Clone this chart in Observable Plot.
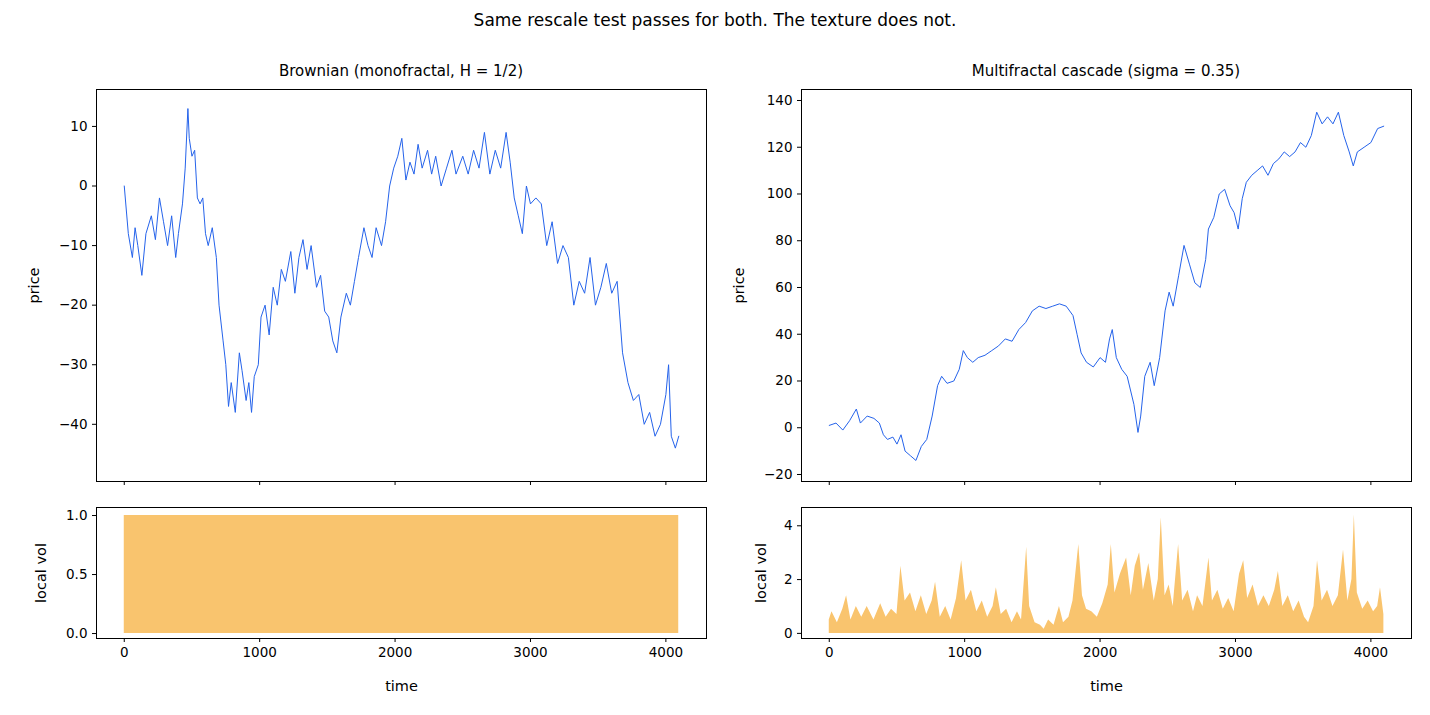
<!DOCTYPE html>
<html><head><meta charset="utf-8">
<script src="https://cdn.jsdelivr.net/npm/d3@7"></script>
<script src="https://cdn.jsdelivr.net/npm/@observablehq/plot@0.6"></script>
<style>
body{margin:0;background:#fff;font-family:"DejaVu Sans",sans-serif;}
#wrap{position:relative;width:1430px;height:715px;}
.t{position:absolute;width:100%;text-align:center;color:#000;}
.p{position:absolute;}
</style></head><body>
<div id="wrap">
<div class="t" style="top:10px;font-size:17px;">Same rescale test passes for both. The texture does not.</div>
<div class="t" style="top:62px;left:96px;width:610px;font-size:15px;">Brownian (monofractal, H = 1/2)</div>
<div class="t" style="top:62px;left:801px;width:610px;font-size:15px;">Multifractal cascade (sigma = 0.35)</div>
<div class="p" id="a" style="left:0;top:80px"></div>
<div class="p" id="b" style="left:705px;top:80px"></div>
<div class="p" id="c" style="left:0;top:500px"></div>
<div class="p" id="d" style="left:705px;top:500px"></div>
</div>
<script>
const brownT = [0,30,60,80,100,130,160,200,230,260,290,320,350,380,400,430,450,470,480,500,520,540,560,580,600,620,650,680,700,730,750,770,790,820,850,870,900,920,940,960,990,1010,1040,1070,1100,1130,1160,1190,1230,1260,1290,1320,1350,1380,1420,1450,1480,1510,1540,1570,1600,1640,1670,1700,1730,1770,1800,1830,1860,1900,1930,1960,1990,2020,2050,2080,2110,2140,2170,2200,2240,2270,2300,2340,2380,2420,2450,2500,2540,2580,2620,2660,2700,2740,2780,2820,2850,2880,2910,2940,2970,3000,3040,3080,3120,3160,3200,3240,3280,3320,3360,3400,3440,3480,3520,3560,3600,3640,3680,3720,3760,3800,3840,3880,3920,3960,4000,4020,4040,4070,4095];
const brownP = [0,-8,-12,-7,-10,-15,-8,-5,-9,-2,-6,-10,-5,-12,-8,-3,3,13,8,5,6,-2,-3,-2,-8,-10,-7,-12,-20,-26,-30,-37,-33,-38,-28,-31,-36,-33,-38,-32,-30,-22,-20,-25,-17,-20,-14,-16,-11,-18,-12,-9,-14,-10,-17,-15,-21,-22,-26,-28,-22,-18,-20,-16,-12,-7,-10,-12,-7,-10,-6,0,3,5,8,1,4,2,7,3,6,2,5,0,3,6,2,5,2,6,3,9,2,6,3,9,4,-2,-5,-8,0,-3,-2,-3,-10,-6,-13,-10,-12,-20,-16,-18,-12,-20,-17,-13,-18,-16,-28,-33,-36,-35,-40,-38,-42,-40,-35,-30,-42,-44,-42];
const multiT = [0,50,100,150,200,230,280,330,370,400,430,470,500,530,560,600,640,680,720,760,800,830,870,920,960,990,1020,1060,1100,1150,1200,1250,1300,1350,1400,1450,1500,1550,1600,1650,1700,1750,1800,1830,1860,1900,1950,2000,2040,2070,2090,2120,2160,2200,2250,2280,2300,2330,2370,2400,2440,2480,2510,2540,2580,2620,2660,2700,2740,2780,2800,2840,2880,2920,2960,2990,3020,3050,3080,3120,3160,3200,3240,3280,3320,3360,3400,3440,3480,3520,3560,3600,3640,3680,3720,3760,3800,3840,3870,3900,3950,4000,4050,4095];
const multiP = [1,2,-1,3,8,2,5,4,2,-3,-5,-4,-7,-3,-10,-12,-14,-8,-5,5,18,22,19,20,25,33,30,28,30,31,33,35,38,37,42,45,50,52,51,52,53,52,48,40,32,28,26,30,28,38,42,30,25,22,10,-2,5,22,28,18,30,50,58,52,65,78,70,62,60,72,85,90,100,102,95,92,85,98,105,108,110,112,108,113,115,118,116,118,122,120,125,135,130,133,130,135,125,118,112,118,120,122,128,129];
const brownVolT = [0,4095];
const brownVol = [1,1];
const multiVolT = [0,20,60,100,128,160,200,240,280,330,380,420,460,500,529,560,600,640,680,720,760,785,820,860,900,940,978,1010,1050,1090,1130,1170,1210,1234,1270,1310,1350,1390,1420,1458,1480,1520,1560,1587,1620,1660,1700,1730,1770,1800,1843,1870,1900,1939,1980,2020,2060,2083,2110,2150,2196,2230,2260,2292,2320,2360,2400,2430,2452,2480,2510,2540,2580,2610,2650,2690,2720,2760,2804,2830,2870,2910,2950,2990,3030,3061,3090,3130,3170,3210,3250,3290,3317,3350,3390,3430,3470,3510,3540,3580,3606,3640,3680,3720,3760,3798,3830,3860,3878,3900,3940,3980,4020,4050,4071,4096];
const multiVol = [0.5,0.8,0.4,0.9,1.4,0.5,1.0,0.6,1.0,0.5,1.1,0.6,0.9,0.7,2.5,1.2,1.5,0.8,1.4,0.7,1.2,1.9,0.6,1.0,0.5,1.3,2.7,1.2,1.6,0.8,1.2,0.6,1.0,1.7,0.7,0.9,0.4,0.8,0.5,3.2,1.0,0.4,0.3,0.15,0.5,0.3,1.0,0.4,0.6,1.2,3.3,1.4,0.9,0.8,0.6,1.1,1.8,3.3,1.5,2.2,2.8,1.4,2.5,3.0,1.6,2.6,1.2,2.0,4.3,1.4,1.8,1.0,3.3,1.2,1.6,0.8,1.4,1.0,2.8,1.2,1.6,0.9,1.3,0.8,2.2,2.7,1.3,1.8,1.0,1.4,1.0,1.6,2.3,1.0,1.4,0.8,1.2,0.6,0.4,1.0,2.7,1.2,1.6,1.0,1.4,3.1,1.2,2.0,4.4,1.5,0.9,1.2,0.8,1.0,1.7,0.7];

const zip = (T, V) => T.map((t, i) => ({t, v: V[i]}));
const BLUE = "#2563eb", ORANGE = "#f9c46e";
const XD = [-205, 4300];
const style = {fontFamily: "DejaVu Sans, sans-serif", fontSize: "13.5px", color: "#000", background: "transparent", overflow: "visible"};

function pricePlot(data, yd, ticks) {
  return Plot.plot({
    width: 720, height: 420, marginLeft: 96, marginRight: 14, marginTop: 9, marginBottom: 19,
    style,
    x: {domain: XD}, y: {domain: yd},
    marks: [
      Plot.frame({stroke: "#000"}),
      Plot.axisX({ticks: [0,1000,2000,3000,4000], tickSize: 4, tickFormat: () => "", label: null}),
      Plot.axisY({ticks, tickSize: 4, label: "price", labelAnchor: "center", labelArrow: "none", labelOffset: 68, tickFormat: d => d < 0 ? "\u2212" + Math.abs(d) : String(d)}),
      Plot.line(data, {x: "t", y: "v", stroke: BLUE, strokeWidth: 1})
    ]
  });
}
function volPlot(data, yd, ticks, fmt, off) {
  return Plot.plot({
    width: 720, height: 215, marginLeft: 96, marginRight: 14, marginTop: 7, marginBottom: 77,
    style,
    x: {domain: XD}, y: {domain: yd},
    marks: [
      Plot.areaY(data, {x: "t", y: "v", fill: ORANGE}),
      Plot.frame({stroke: "#000"}),
      Plot.axisX({ticks: [0,1000,2000,3000,4000], tickSize: 4, tickFormat: d => String(d), label: "time", labelAnchor: "center", labelArrow: "none", labelOffset: 52}),
      Plot.axisY({ticks, tickSize: 4, tickFormat: fmt, label: "local vol", labelAnchor: "center", labelArrow: "none", labelOffset: off})
    ]
  });
}
document.getElementById("a").append(pricePlot(zip(brownT, brownP), [-49.6, 16.2], [-40,-30,-20,-10,0,10]));
document.getElementById("b").append(pricePlot(zip(multiT, multiP), [-23, 144.7], [-20,0,20,40,60,80,100,120,140]));
document.getElementById("c").append(volPlot(zip(brownVolT, brownVol), [-0.042, 1.068], [0,0.5,1], d => d.toFixed(1), 61));
document.getElementById("d").append(volPlot(zip(multiVolT, multiVol), [-0.19, 4.68], [0,2,4], d => String(d), 46));
document.querySelectorAll("g[aria-label='y-axis label'] text, g[aria-label='x-axis label'] text").forEach(t => t.setAttribute("font-size", "14.5"));
</script>
</body></html>
